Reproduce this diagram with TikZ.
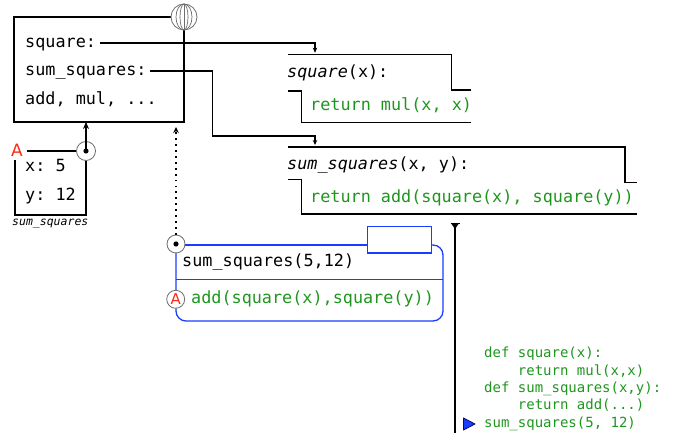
\documentclass[tikz,border=0pt]{standalone}
\usepackage{fontspec}
\setmonofont{DejaVu Sans Mono}
\setsansfont{DejaVu Sans}
\usetikzlibrary{arrows.meta}
\definecolor{cgreen}{RGB}{30,150,30}
\definecolor{cblue}{RGB}{25,60,255}
\definecolor{cred}{RGB}{255,40,20}
\definecolor{cgray}{RGB}{110,110,110}
\definecolor{cnavy}{RGB}{10,10,90}
\newcommand\bigtt{\ttfamily\fontsize{16.8}{20}\selectfont}
\newcommand\codett{\ttfamily\fontsize{14}{17}\selectfont}
\newcommand\smalltt{\ttfamily\itshape\fontsize{11.5}{14}\selectfont}
\tikzset{
  txt/.style={inner sep=0pt, anchor=base west, font=\bigtt},
  gtxt/.style={txt, text=cgreen},
  code/.style={inner sep=0pt, anchor=base west, font=\codett, text=cgreen},
  frameline/.style={line width=1.3pt, black},
  ptr/.style={line width=1.3pt, -{Stealth[length=5pt,width=4.5pt]}},
  ring/.style={draw=cgray, line width=0.8pt, fill=white, circle, inner sep=0pt, minimum size=19pt},
  bluef/.style={draw=cblue, line width=1.3pt},
}
\begin{document}
\begin{tikzpicture}[x=1pt,y=-1pt]
\useasboundingbox (0,0) rectangle (681,435);
% global frame
\draw[frameline] (14,17) rectangle (184,122);
\node[txt] (gsq) at (25,47.5) {square:};
\node[txt] (gss) at (25,76) {sum\_squares:};
\node[txt] (gadd) at (25,105) {add, mul, ...};
% globe
\node[circle, draw=cgray, fill=white, line width=0.8pt, minimum size=26pt, inner sep=0pt] (globe) at (184,17) {};
\foreach \r in {4,8}{\draw[cgray, line width=0.7pt] (globe.center) ellipse [x radius=\r pt, y radius=13pt];}
\draw[cgray, line width=0.7pt] (globe.north) -- (globe.south);
% function frames
\draw[frameline] (288,54.7) -- (451.7,54.7) -- (451.7,90) -- (470.7,90);
\draw[frameline] (288,91) -- (301.7,91) -- (301.7,122.7) -- (470.7,122.7);
\node[txt] (fsq) at (287,78) {\itshape square\upshape(x):};
\node[gtxt] (fsqb) at (310,110.5) {return mul(x, x)};
\draw[frameline] (288,147) -- (625,147) -- (625,182.3) -- (637,182.3);
\draw[frameline] (288,179.3) -- (301.7,179.3) -- (301.7,214) -- (637,214);
\node[txt] (fss) at (287,169.5) {\itshape sum\_squares\upshape(x, y):};
\node[gtxt] (fssb) at (310,203) {return add(square(x), square(y))};
% pointers
\coordinate (sqp) at (100,43);
\coordinate (sqf) at (315,54.7);
\draw[ptr, shorten >=2pt] (sqp) -| (sqf);
\coordinate (ssp) at (150,71);
\coordinate (ssk) at (212.7,136);
\coordinate (ssf) at (315,147);
\draw[ptr, shorten >=2pt] (ssp) -| (ssk) -| (ssf);
% left frame A
\node[inner sep=0pt, anchor=base, font=\sffamily\fontsize{17}{20}\selectfont, text=cred] (la) at (17,157) {A};
\node[ring] (lc) at (86,151) {};
\draw[frameline] (27,151) -- (lc.west);
\draw[frameline] (lc.south) -- (86,215) -- (15,215) -- (15,160);
\node[txt] (lx) at (25,172) {x: 5};
\node[txt] (ly) at (25,201) {y: 12};
\node[inner sep=0pt, anchor=base west, font=\smalltt] (lname) at (12,225.5) {sum\_squares};
\fill (lc.center) circle[radius=2.6pt];
\coordinate (gbot) at (86,122);
\draw[line width=1.5pt, -{Stealth[length=7pt,width=6pt]}] (lc.center) -- (gbot);
% blue frame
\draw[bluef, rounded corners=10pt] (176,253) -- (176,321) -- (443,321) -- (443,245) -- (431,245);
\draw[bluef] (176,245) -- (366.7,245);
\node[draw=cblue, line width=1.3pt, minimum width=64.3pt, minimum height=26.3pt, inner sep=0pt, anchor=north west] (bbox) at (366.7,226) {};
\draw[bluef] (176,279.3) -- (443,279.3);
\node[ring, minimum size=18pt] (bc) at (176,244) {};
\fill (bc.center) circle[radius=2.6pt];
\node[txt] (bcall) at (182,267) {sum\_squares(5,12)};
\node[ring, minimum size=18pt, font=\sffamily\fontsize{15}{18}\selectfont, text=cred] (ba) at (175.7,299.3) {A};
\node[gtxt] (bexpr) at (191,304) {add(square(x),square(y))};
\coordinate (gbot2) at (176,127);
\draw[line width=1.6pt, dash pattern=on 1.8pt off 4.1pt, -{Stealth[length=6pt,width=5.5pt]}] (bc.north) -- (gbot2);
% timeline
\coordinate (tltop) at (455,223.5);
\coordinate (tlbot) at (455,433);
\draw[line width=1.5pt] (tltop) -- (tlbot);
\draw[line width=1.4pt] (450.5,223.5) -- (459.5,223.5);
\fill (451.5,224) -- (458.5,224) -- (455,229) -- cycle;
\draw[cnavy, fill=cblue, line width=0.8pt, line join=round] (463.5,418) -- (475,424) -- (463.5,430) -- cycle;
% code
\node[code] (c1) at (484,358) {def square(x):};
\node[code] (c2) at (517.7,375.3) {return mul(x,x)};
\node[code] (c3) at (484,392.6) {def sum\_squares(x,y):};
\node[code] (c4) at (517.7,409.9) {return add(...)};
\node[code] (c5) at (484,427.2) {sum\_squares(5, 12)};
\end{tikzpicture}
\end{document}
